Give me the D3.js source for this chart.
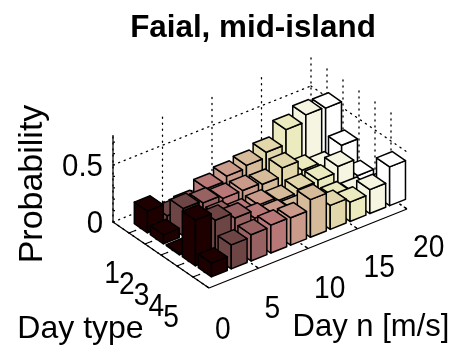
<!DOCTYPE html>
<html>
<head>
<meta charset="utf-8">
<script src="https://d3js.org/d3.v7.min.js"></script>
<style>
  html, body { margin: 0; padding: 0; background: #fff; }
  svg { display: block; }
  text { font-family: "Liberation Sans", Arial, sans-serif; fill: #000; }
</style>
</head>
<body>
<div id="chart"></div>
<script>
const dayTypes = [1, 2, 3, 4, 5];
const windBins = [2, 4, 6, 8, 10, 12, 14, 16, 18, 20];
const windTicks = [0, 5, 10, 15, 20];
const probTicks = [0, 0.5];
const probTickLabels = ['0', '0.5'];

// one list per day type, one value per wind bin
const day1 = [0.19, 0.08, 0.10, 0.18, 0.22, 0.245, 0.29, 0.42, 0.48, 0.47];
const day2 = [0.08, 0.24, 0.22, 0.19, 0.19, 0.175, 0.25, 0.16, 0.12, 0.24];
const day3 = [0.01, 0.10, 0.20, 0.15, 0.16, 0.13, 0.16, 0.17, 0.22, 0.07];
const day4 = [0.40, 0.33, 0.28, 0.21, 0.17, 0.14, 0.10, 0.12, 0.09, 0.05];
const day5 = [0.12, 0.21, 0.23, 0.245, 0.24, 0.33, 0.21, 0.17, 0.21, 0.34];
const probs = [day1, day2, day3, day4, day5];

// pink colormap, one colour for each wind bin
const binColors = ['#1e0000', '#6e4545', '#986262', '#b97878', '#ca9a8b',
  '#d6bb9b', '#e1d7aa', '#ebebbf', '#f5f5e1', '#ffffff'];

const width = 450, height = 347;
const svg = d3.select('#chart').append('svg').attr('width', width).attr('height', height);
const g = svg.append('g').style('filter', 'blur(0.35px)');

// oblique projection, each data axis adds its own screen offset
const xToPx = d3.scaleLinear().domain([0, 20]).range([0, 198]);
const xToPy = d3.scaleLinear().domain([0, 20]).range([0, -79]);
const yToPx = d3.scaleLinear().domain([0, 6]).range([0, 96]);
const yToPy = d3.scaleLinear().domain([0, 6]).range([0, 66]);
const zToPy = d3.scaleLinear().domain([0, 0.763]).range([0, -87]);
const originX = 113, originY = 222;
const zMax = 0.763, xMax = 20, yMax = 6;

function proj(x, y, z) {
  return [originX + xToPx(x) + yToPx(y), originY + xToPy(x) + yToPy(y) + zToPy(z)];
}
function seg(a, b) {
  return d3.line()([proj(...a), proj(...b)]);
}

const gridStyle = sel => sel.attr('fill', 'none').attr('stroke', '#000')
  .attr('stroke-width', 1.3).attr('stroke-dasharray', '1.2 4.8').attr('stroke-linecap', 'round');

const grid = g.append('g');
// floor
windTicks.forEach(t => grid.append('path').attr('d', seg([t, 0, 0], [t, yMax, 0])).call(gridStyle));
dayTypes.forEach(t => grid.append('path').attr('d', seg([0, t, 0], [xMax, t, 0])).call(gridStyle));
// back walls
windTicks.forEach(t => grid.append('path').attr('d', seg([t, 0, 0], [t, 0, zMax])).call(gridStyle));
dayTypes.forEach(t => grid.append('path').attr('d', seg([xMax, t, 0], [xMax, t, zMax])).call(gridStyle));
probTicks.forEach(t => {
  grid.append('path').attr('d', seg([0, 0, t], [xMax, 0, t])).call(gridStyle);
  grid.append('path').attr('d', seg([xMax, 0, t], [xMax, yMax, t])).call(gridStyle);
});

// axis lines and ticks
const axes = g.append('g').attr('fill', 'none').attr('stroke', '#000').attr('stroke-width', 1.2);
axes.append('path').attr('d', seg([0, 0, 0], [0, 0, zMax]));
axes.append('path').attr('d', seg([0, 0, 0], [0, yMax, 0]));
axes.append('path').attr('d', seg([0, yMax, 0], [xMax, yMax, 0]));
windTicks.forEach(t => axes.append('path').attr('d', seg([t, yMax, 0], [t, yMax - 0.2, 0])));
dayTypes.forEach(t => axes.append('path').attr('d', seg([0, t, 0], [0.5, t, 0])));
d3.range(0, zMax, 0.1).forEach(t => axes.append('path').attr('d', d3.line()([proj(0, 0, t), [proj(0, 0, t)[0] + 2, proj(0, 0, t)[1]]])));

// bars, far ones first so nearer ones paint over them
const barW = 1.6, barD = 0.82;
const bars = [];
dayTypes.forEach((d, i) => {
  windBins.slice().reverse().forEach(b => {
    const j = windBins.indexOf(b);
    bars.push({ day: d, bin: b, value: probs[i][j], color: binColors[j] });
  });
});

const closed = d3.line().curve(d3.curveLinearClosed);
const barG = g.append('g').attr('stroke', '#000').attr('stroke-width', 1.5).attr('stroke-linejoin', 'round');
bars.forEach(b => {
  const x0 = b.bin - barW / 2, x1 = b.bin + barW / 2;
  const y0 = b.day - barD / 2, y1 = b.day + barD / 2;
  const z = b.value;
  // left side, front side, top
  barG.append('path').attr('fill', b.color)
    .attr('d', closed([proj(x0, y0, 0), proj(x0, y1, 0), proj(x0, y1, z), proj(x0, y0, z)]));
  barG.append('path').attr('fill', b.color)
    .attr('d', closed([proj(x0, y1, 0), proj(x1, y1, 0), proj(x1, y1, z), proj(x0, y1, z)]));
  barG.append('path').attr('fill', b.color)
    .attr('d', closed([proj(x0, y0, z), proj(x1, y0, z), proj(x1, y1, z), proj(x0, y1, z)]));
});

// labels, the original bitmap font is taller and narrower than Liberation
const labels = g.append('g').attr('font-size', 32);
function label(str, x, y, anchor, sx) {
  return labels.append('text').attr('transform', `translate(${x},${y}) scale(${sx},1)`)
    .attr('text-anchor', anchor).text(str);
}
probTicks.forEach((t, i) => {
  const p = proj(0, 0, t);
  label(probTickLabels[i], p[0] - 10, p[1] + 11, 'end', 0.92);
});
dayTypes.forEach(t => {
  const p = proj(0, t, 0);
  label(t, p[0] - 15.75 - 1.25 * t, p[1] + 50, 'middle', 0.88);
});
windTicks.forEach(t => {
  const p = proj(t, yMax, 0);
  label(t, p[0] + 6, p[1] + 51 - 0.17 * t, 'start', 0.88);
});
label('Faial, mid-island', 253, 37, 'middle', 0.98).attr('font-weight', 'bold');
label('Day n [m/s]', 371, 336, 'middle', 0.97);
label('Day type', 80.5, 338, 'middle', 1);
labels.append('text').attr('transform', 'translate(42,184) rotate(-90)')
  .attr('font-size', 34).attr('text-anchor', 'middle').text('Probability');
</script>
</body>
</html>
